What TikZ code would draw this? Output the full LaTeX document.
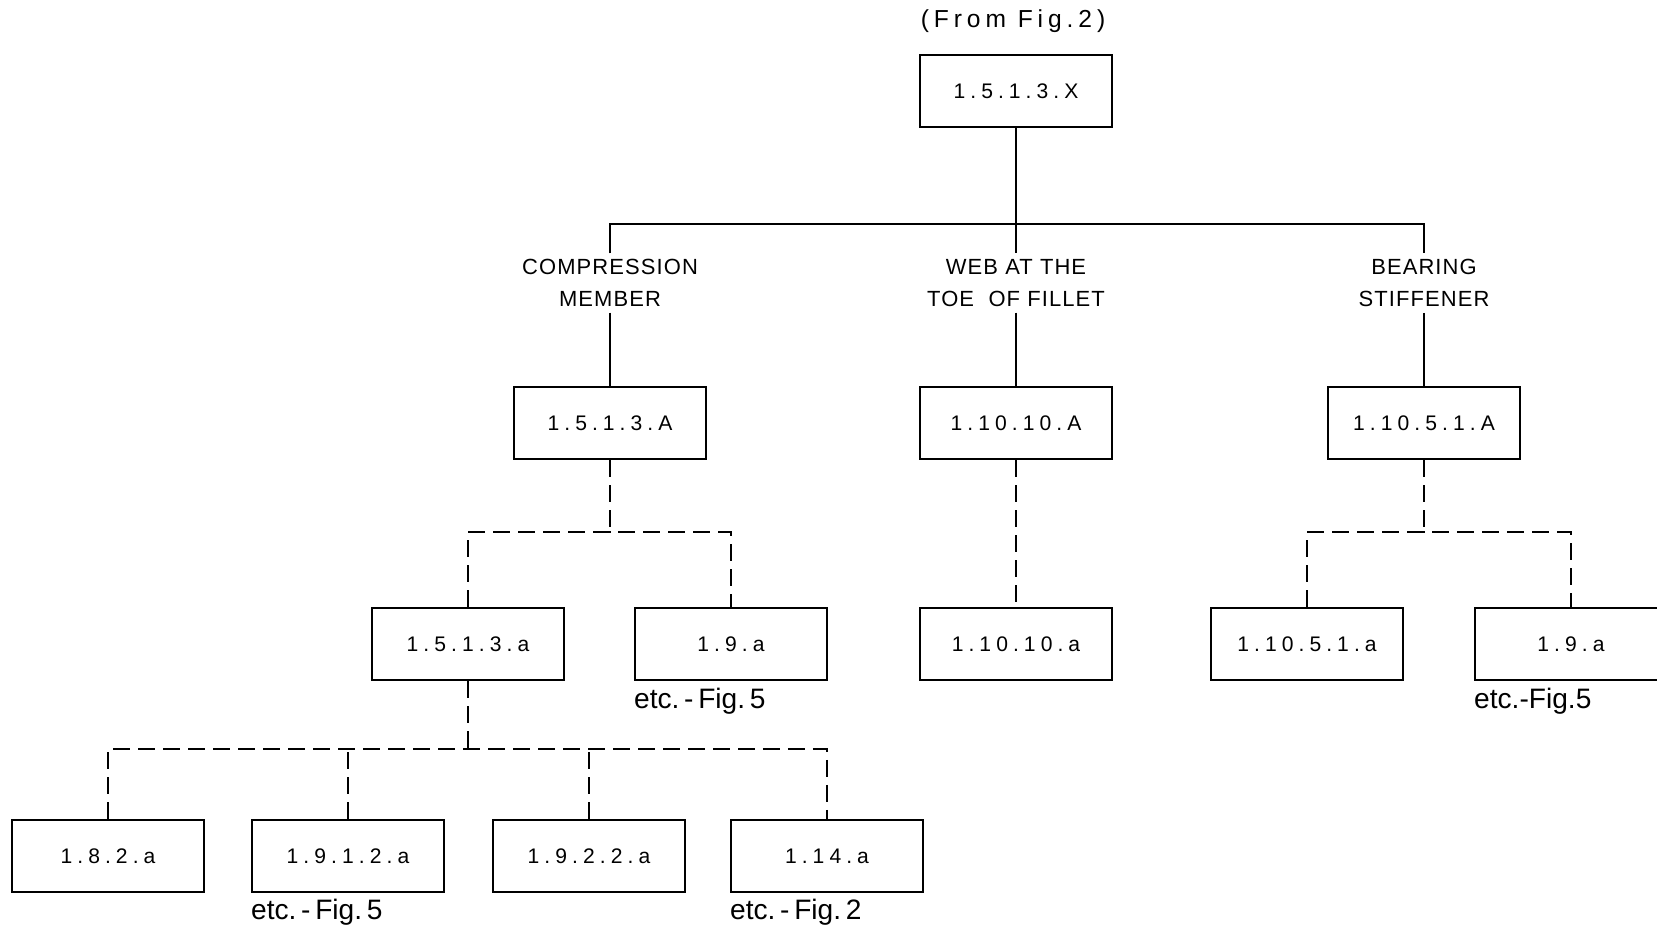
\documentclass[tikz,border=0pt]{standalone}
\usepackage{fontspec}
\setmainfont{Liberation Sans}
\newfontfamily\codefont[LetterSpace=24]{Liberation Sans}
\newfontfamily\labelfont[LetterSpace=5]{Liberation Sans}
\newfontfamily\headfont[LetterSpace=20]{Liberation Sans}
\usetikzlibrary{positioning, calc}

\begin{document}
\begin{tikzpicture}[x=0.02cm, y=-0.02cm,
    codebox/.style={draw, line width=1.3pt, minimum width=3.84cm, minimum height=1.44cm,
      font=\codefont\fontsize{12}{14}\selectfont},
    branch/.style={align=center, font=\labelfont\fontsize{12.5}{18}\selectfont},
    link/.style={line width=1.1pt},
    dashlink/.style={line width=1.1pt, dash pattern=on 0.34cm off 0.16cm},
    etcnote/.style={anchor=north west, inner sep=0pt, font=\fontsize{16}{19}\selectfont}]

  \useasboundingbox (0,0) rectangle (1657,925);

  % ===== NIVEL SUPERIOR =====
  \node[font=\headfont\fontsize{14}{16}\selectfont] (from) at (1013,21) {(From Fig.2)};
  \node[codebox] (top) at (1016,91) {1.5.1.3.X};

  % Ramas
  \node[branch] (comp) at (610,283) {COMPRESSION\\MEMBER};
  \node[branch] (web) at (1016,283) {WEB AT THE\\TOE \ OF FILLET};
  \node[branch] (bear) at (1424,283) {BEARING\\STIFFENER};

  \node[codebox] (compA) at (610,423) {1.5.1.3.A};
  \node[codebox] (webA) at (1016,423) {1.10.10.A};
  \node[codebox] (bearA) at (1424,423) {1.10.5.1.A};

  % Tercer nivel
  \node[codebox] (compa) at (468,644) {1.5.1.3.a};
  \node[codebox] (compb) at (731,644) {1.9.a};
  \node[codebox] (weba) at (1016,644) {1.10.10.a};
  \node[codebox] (beara) at (1307,644) {1.10.5.1.a};
  \node[codebox] (bearb) at (1571,644) {1.9.a};

  \node[etcnote] (note1) at ([yshift=-4pt]compb.south west) {etc.\,-\,Fig.\,5};
  \node[etcnote] (note2) at ([yshift=-4pt]bearb.south west) {etc.-Fig.5};

  % Cuarto nivel
  \node[codebox] (sub1) at (108,856) {1.8.2.a};
  \node[codebox] (sub2) at (348,856) {1.9.1.2.a};
  \node[codebox] (sub3) at (589,856) {1.9.2.2.a};
  \node[codebox] (sub4) at (827,856) {1.14.a};

  \node[etcnote] (note3) at ([yshift=-3pt]sub2.south west) {etc.\,-\,Fig.\,5};
  \node[etcnote] (note4) at ([yshift=-3pt]sub4.south west) {etc.\,-\,Fig.\,2};

  % ===== CONEXIONES =====
  \coordinate (j1) at (1016,224);
  \draw[link] (top) -- (j1);
  \draw[link] (comp) |- (j1) -| (bear);
  \draw[link] (j1) -- (web);
  \draw[link] (comp) -- (compA);
  \draw[link] (web) -- (webA);
  \draw[link] (bear) -- (bearA);

  % Conexiones a trazos
  \coordinate (j2) at (610,532);
  \draw[dashlink] (compA) -- (j2);
  \draw[dashlink] (compa) |- (j2) -| (compb);
  \draw[dashlink] (webA) -- (weba);

  \coordinate (j3) at (1424,532);
  \draw[dashlink] (bearA) -- (j3);
  \draw[dashlink] (beara) |- (j3) -| (bearb);

  \coordinate (j4) at (468,749);
  \draw[dashlink] (compa) -- (j4);
  \draw[dashlink] (sub1) |- (j4) -| (sub4);
  \draw[dashlink] (sub2) -- (sub2 |- j4);
  \draw[dashlink] (sub3) -- (sub3 |- j4);
\end{tikzpicture}
\end{document}
